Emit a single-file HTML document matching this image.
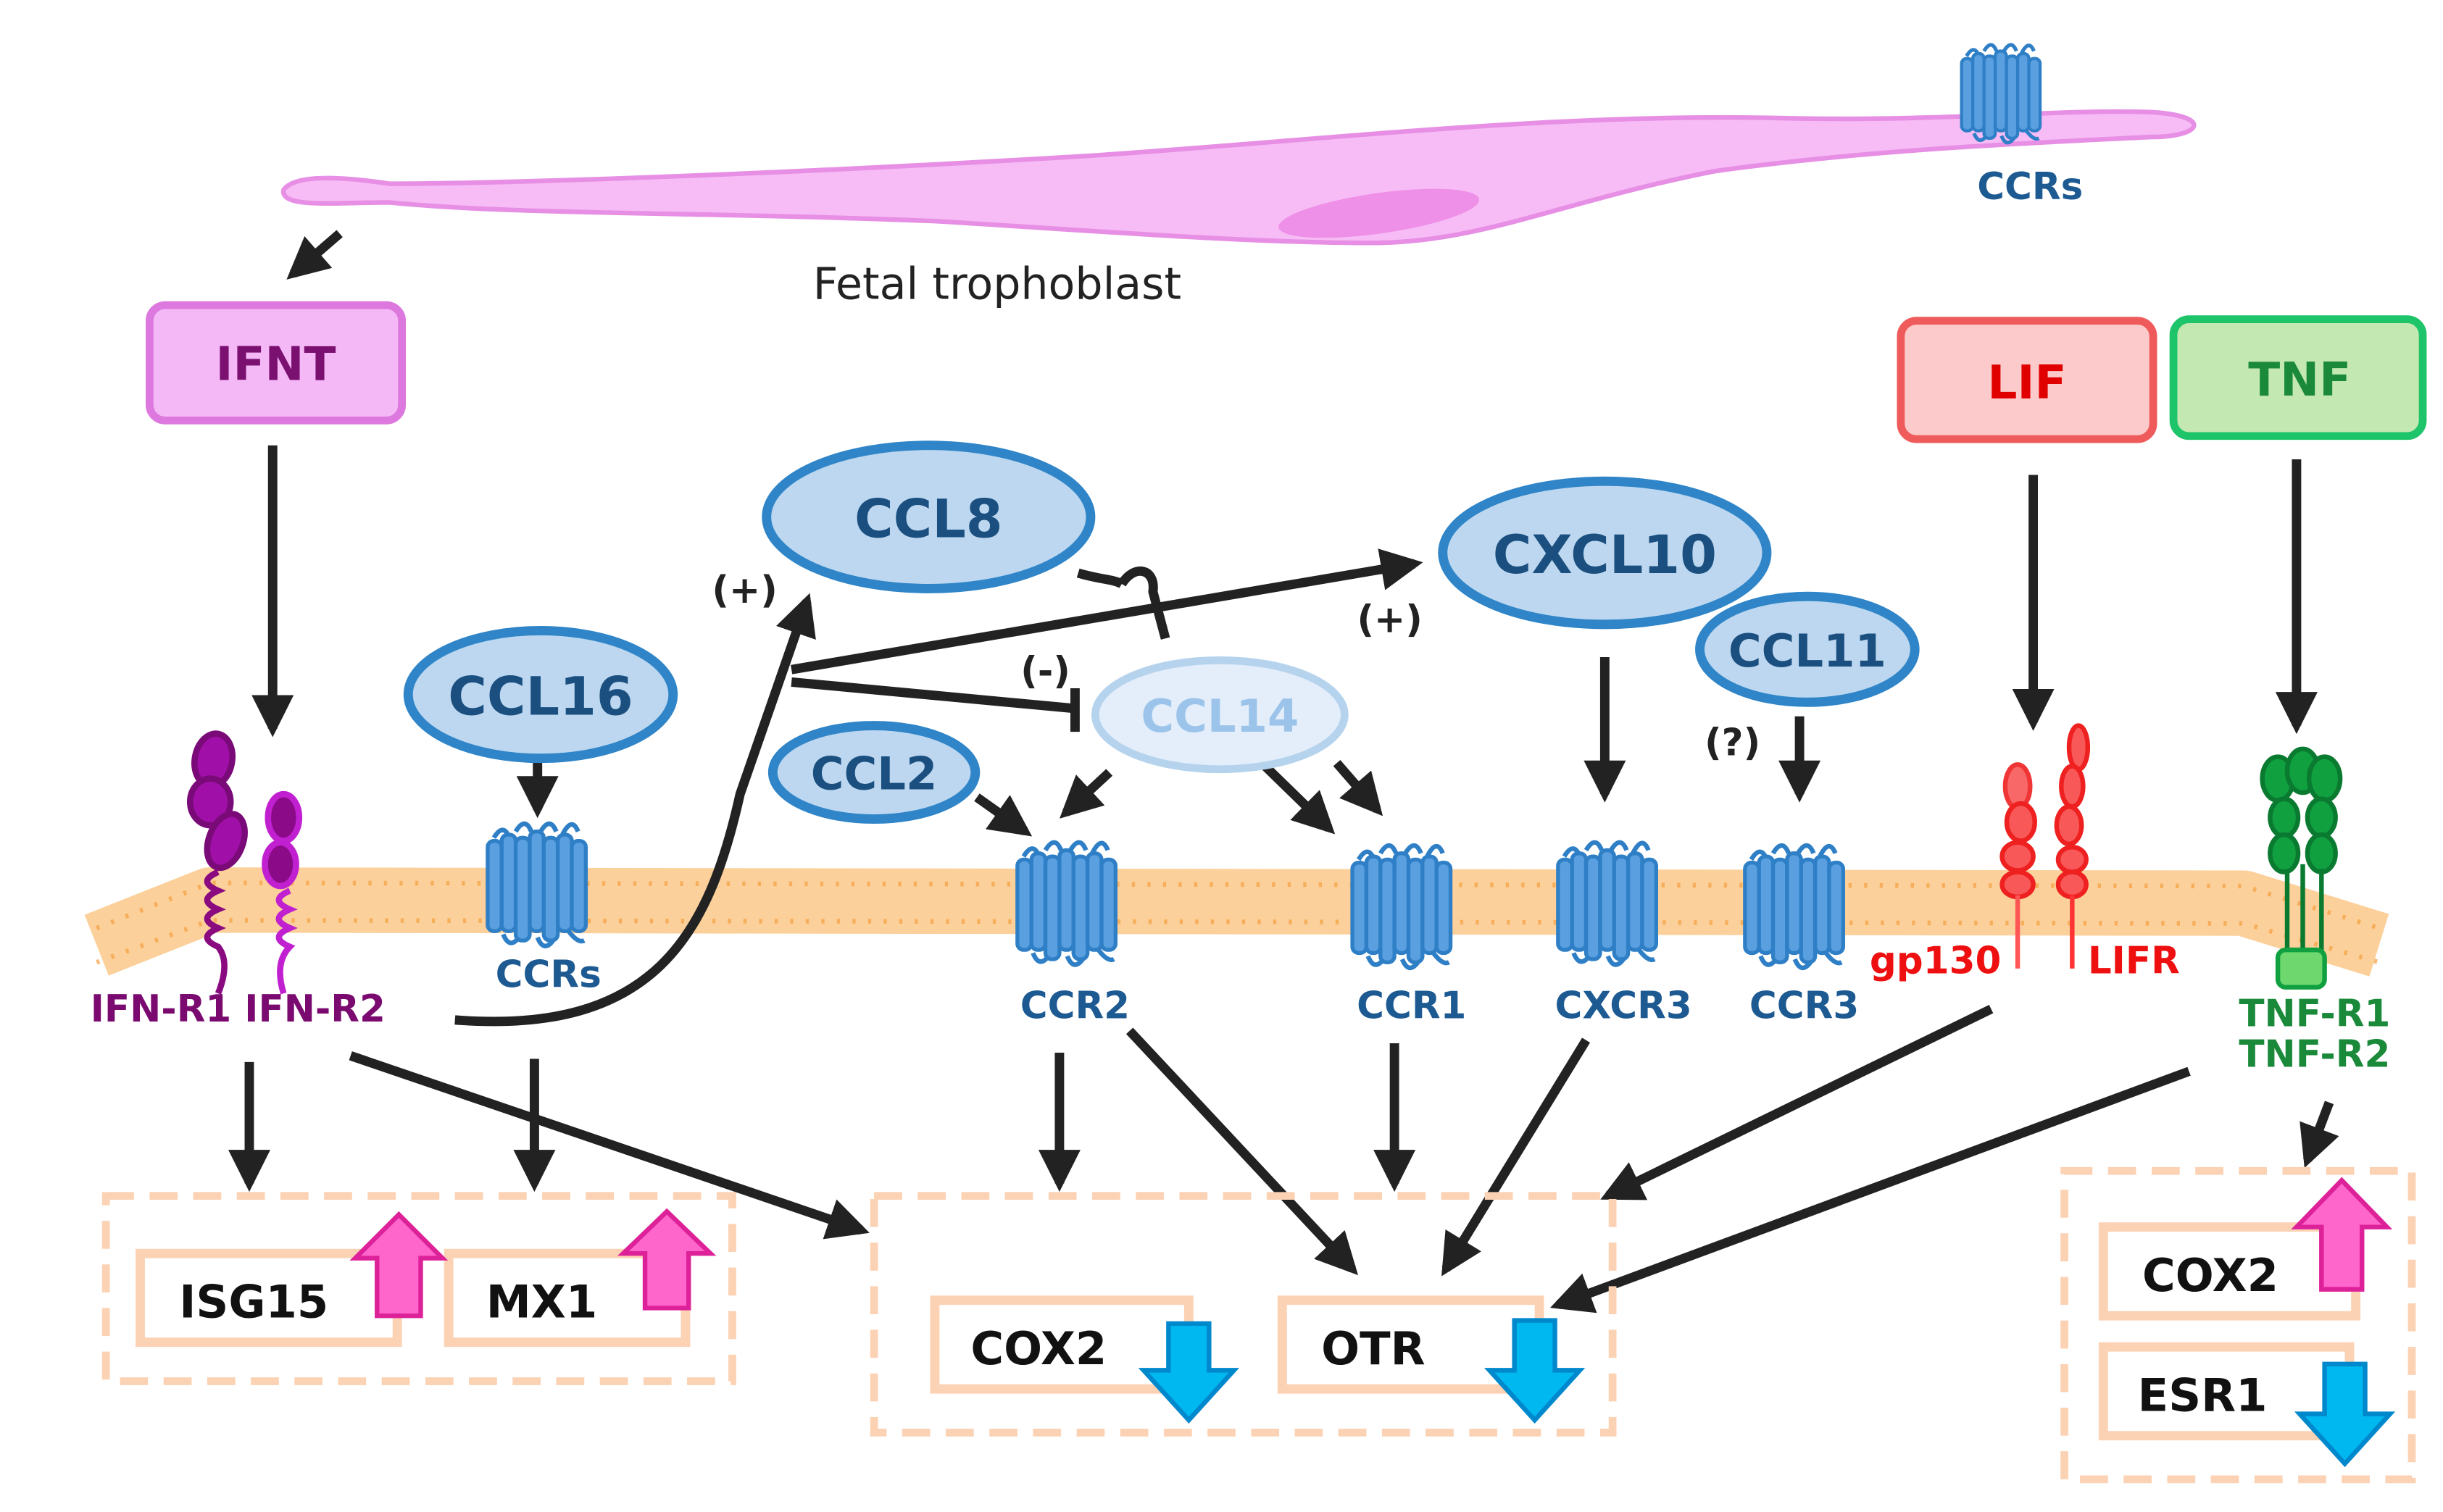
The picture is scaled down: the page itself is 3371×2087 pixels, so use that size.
<!DOCTYPE html>
<html><head><meta charset="utf-8"><style>
html,body{margin:0;padding:0;background:#fff;}
svg{display:block;}
text{font-family:"DejaVu Sans","Liberation Sans",sans-serif;font-weight:bold;}
</style></head><body>
<svg width="3371" height="2087" viewBox="0 0 1568 971" preserveAspectRatio="none" xmlns="http://www.w3.org/2000/svg">
<defs>
<marker id="ah" viewBox="0 0 10 10" refX="8" refY="5" markerWidth="4.5" markerHeight="4.5" orient="auto-start-reverse" markerUnits="strokeWidth">
<path d="M0,0 L10,5 L0,10 z" fill="#222"/></marker>
<g id="r7">
<path d="M-26,-30 q6,-10 10,0 M-12,-34 q6,-10 10,0 M4,-34 q6,-10 10,0 M18,-32 q6,-12 10,-2" fill="none" stroke="#2f7fc6" stroke-width="3"/>
<rect x="-30" y="-28" width="9" height="58" rx="4" fill="#5aa0e0" stroke="#2f7fc6" stroke-width="2.5"/>
<rect x="-21" y="-32" width="9" height="62" rx="4" fill="#5aa0e0" stroke="#2f7fc6" stroke-width="2.5"/>
<rect x="-12" y="-30" width="9" height="66" rx="4" fill="#5aa0e0" stroke="#2f7fc6" stroke-width="2.5"/>
<rect x="-3" y="-34" width="9" height="64" rx="4" fill="#5aa0e0" stroke="#2f7fc6" stroke-width="2.5"/>
<rect x="6" y="-30" width="9" height="66" rx="4" fill="#5aa0e0" stroke="#2f7fc6" stroke-width="2.5"/>
<rect x="15" y="-32" width="9" height="62" rx="4" fill="#5aa0e0" stroke="#2f7fc6" stroke-width="2.5"/>
<rect x="24" y="-28" width="9" height="58" rx="4" fill="#5aa0e0" stroke="#2f7fc6" stroke-width="2.5"/>
<path d="M-20,32 q4,10 10,2 M2,34 q4,10 10,2 M22,30 q6,8 10,6" fill="none" stroke="#2f7fc6" stroke-width="3"/>
</g>
</defs>

<!-- trophoblast -->
<path d="M182,122 C190,110 230,115 250,118 C320,118 500,112 700,100 C850,90 1000,72 1150,76 C1250,78 1320,70 1380,72 C1420,74 1415,88 1380,88 C1300,92 1200,96 1100,110 C1000,130 950,156 880,156 C800,156 700,148 600,142 C450,136 330,138 250,130 C215,130 180,134 182,122 Z" fill="#f7bcf5" stroke="#e78fe5" stroke-width="3"/>
<ellipse cx="885" cy="137" rx="65" ry="13" fill="#ee8fe8" transform="rotate(-8 885 137)"/>
<use href="#r7" transform="translate(1283,60) scale(0.8)"/>
<text x="1303" y="128" font-size="24" fill="#1d5a92" text-anchor="middle">CCRs</text>
<text x="640" y="192" font-size="28" fill="#222" text-anchor="middle" style="font-weight:normal">Fetal trophoblast</text>

<!-- membrane -->
<polyline points="62,607 135,578 1440,580 1527,607" fill="none" stroke="#fcd09a" stroke-width="42" stroke-linejoin="round"/>
<polyline points="62,596 135,567 1440,569 1527,596" fill="none" stroke="#f5a040" stroke-width="3" stroke-dasharray="2 8" opacity="0.7"/>
<polyline points="62,618 135,591 1440,593 1527,618" fill="none" stroke="#f5a040" stroke-width="3" stroke-dasharray="2 8" opacity="0.7"/>

<!-- top boxes -->
<rect x="96" y="196" width="162" height="74" rx="10" fill="#f5b8f7" stroke="#dd78df" stroke-width="5"/>
<text x="177" y="244" font-size="30" fill="#7a1070" text-anchor="middle">IFNT</text>
<rect x="1220" y="206" width="162" height="76" rx="10" fill="#fccaca" stroke="#ef5a5a" stroke-width="5"/>
<text x="1301" y="256" font-size="30" fill="#e00000" text-anchor="middle">LIF</text>
<rect x="1395" y="205" width="160" height="75" rx="10" fill="#c4e8b2" stroke="#1ec46a" stroke-width="5"/>
<text x="1476" y="254" font-size="30" fill="#1a8a3a" text-anchor="middle">TNF</text>

<g stroke="#222" stroke-width="6" fill="none" marker-end="url(#ah)">
<line x1="175" y1="286" x2="175" y2="468"/>
<line x1="1305" y1="305" x2="1305" y2="464"/>
<line x1="1474" y1="295" x2="1474" y2="466"/>
<line x1="218" y1="150" x2="188" y2="176"/>
<path d="M292,655 C420,665 455,600 475,510 L518,386"/>
<line x1="508" y1="430" x2="908" y2="362"/>
<line x1="345" y1="488" x2="345" y2="520"/>
<line x1="1030" y1="422" x2="1030" y2="510"/>
<line x1="1155" y1="460" x2="1155" y2="510"/>
<line x1="627" y1="512" x2="658" y2="534"/>
<line x1="712" y1="496" x2="684" y2="522"/>
<line x1="812" y1="492" x2="853" y2="532"/>
<line x1="858" y1="490" x2="884" y2="520"/>
<line x1="160" y1="682" x2="160" y2="760"/>
<line x1="343" y1="680" x2="343" y2="760"/>
<line x1="680" y1="676" x2="680" y2="760"/>
<line x1="895" y1="670" x2="895" y2="760"/>
<line x1="225" y1="678" x2="553" y2="790"/>
<line x1="725" y1="662" x2="868" y2="815"/>
<line x1="1018" y1="668" x2="928" y2="815"/>
<line x1="1278" y1="648" x2="1032" y2="768"/>
<line x1="1405" y1="688" x2="1000" y2="838"/>
<line x1="1495" y1="708" x2="1481" y2="745"/>
</g>
<!-- inhibition -->
<g stroke="#222" stroke-width="6" fill="none">
<line x1="508" y1="438" x2="690" y2="455"/>
<line x1="690" y1="442" x2="690" y2="470"/>
<path d="M692,368 C705,372 715,372 720,375 M720,375 C728,362 742,365 740,380 L748,410"/>
</g>

<!-- ellipses -->
<ellipse cx="596" cy="332" rx="104" ry="46" fill="#bcd7ef" stroke="#2f85c8" stroke-width="6"/>
<text x="596" y="345" font-size="34" fill="#1a4f80" text-anchor="middle">CCL8</text>
<ellipse cx="1030" cy="355" rx="104" ry="46" fill="#bcd7ef" stroke="#2f85c8" stroke-width="6"/>
<text x="1030" y="368" font-size="34" fill="#1a4f80" text-anchor="middle">CXCL10</text>
<ellipse cx="347" cy="446" rx="85" ry="41" fill="#bcd7ef" stroke="#2f85c8" stroke-width="6"/>
<text x="347" y="459" font-size="34" fill="#1a4f80" text-anchor="middle">CCL16</text>
<ellipse cx="1160" cy="417" rx="69" ry="34" fill="#bcd7ef" stroke="#2f85c8" stroke-width="6"/>
<text x="1160" y="428" font-size="29" fill="#1a4f80" text-anchor="middle">CCL11</text>
<ellipse cx="783" cy="459" rx="80" ry="35" fill="#e3eefa" stroke="#b6d3ee" stroke-width="5"/>
<text x="783" y="470" font-size="29" fill="#9cc4ea" text-anchor="middle">CCL14</text>
<ellipse cx="561" cy="496" rx="65" ry="30" fill="#bcd7ef" stroke="#2f85c8" stroke-width="6"/>
<text x="561" y="507" font-size="29" fill="#1a4f80" text-anchor="middle">CCL2</text>

<g font-size="24" fill="#222" text-anchor="middle">
<text x="478" y="387">(+)</text>
<text x="892" y="406">(+)</text>
<text x="671" y="439">(-)</text>
<text x="1112" y="485">(?)</text>
</g>

<!-- receptors -->
<use href="#r7" transform="translate(343,568)"/>
<use href="#r7" transform="translate(683,580)"/>
<use href="#r7" transform="translate(898,582)"/>
<use href="#r7" transform="translate(1030,580)"/>
<use href="#r7" transform="translate(1150,582)"/>
<g font-size="24" fill="#1d5a92" text-anchor="middle">
<text x="352" y="634">CCRs</text>
<text x="690" y="654">CCR2</text>
<text x="906" y="654">CCR1</text>
<text x="1042" y="654">CXCR3</text>
<text x="1158" y="654">CCR3</text>
</g>

<!-- IFN receptors -->
<g stroke="#7a0a78" stroke-width="4" fill="#a010a8">
<ellipse cx="137" cy="488" rx="12" ry="17" transform="rotate(10 137 488)"/>
<ellipse cx="135" cy="515" rx="13" ry="15"/>
<ellipse cx="145" cy="540" rx="11" ry="18" transform="rotate(20 145 540)"/>
<ellipse cx="182" cy="525" rx="10" ry="15" fill="#8a0a88" stroke="#c020d0"/>
<ellipse cx="180" cy="555" rx="10" ry="14" fill="#8a0a88" stroke="#c020d0"/>
</g>
<g fill="none" stroke-width="4">
<path d="M140,560 q-14,6 0,12 q-14,6 0,12 q-14,6 0,12 q-14,6 0,12 q8,10 0,30" stroke="#8a0a80"/>
<path d="M186,572 q-14,6 0,12 q-14,6 0,12 q-14,6 0,12 q-10,10 -4,30" stroke="#c020d0"/>
</g>
<text x="58" y="656" font-size="24" fill="#7a0a70">IFN-R1 IFN-R2</text>

<!-- LIF receptors -->
<g fill="#f85858" stroke="#ee2020" stroke-width="3">
<ellipse cx="1295" cy="505" rx="8" ry="14" opacity="0.9"/>
<ellipse cx="1297" cy="528" rx="9" ry="12"/>
<ellipse cx="1295" cy="550" rx="10" ry="9"/>
<ellipse cx="1295" cy="568" rx="10" ry="8"/>
<ellipse cx="1334" cy="480" rx="6" ry="14"/>
<ellipse cx="1330" cy="505" rx="7" ry="13"/>
<ellipse cx="1328" cy="530" rx="8" ry="12"/>
<ellipse cx="1330" cy="552" rx="9" ry="8"/>
<ellipse cx="1330" cy="568" rx="9" ry="8"/>
</g>
<line x1="1295" y1="575" x2="1295" y2="622" stroke="#f55" stroke-width="3"/>
<line x1="1330" y1="575" x2="1330" y2="622" stroke="#f33" stroke-width="3"/>
<text x="1200" y="625" font-size="24" fill="#ee1010">gp130</text>
<text x="1340" y="625" font-size="24" fill="#ee1010">LIFR</text>

<!-- TNF receptors -->
<g fill="#10a040" stroke="#0a7a30" stroke-width="3">
<ellipse cx="1462" cy="500" rx="10" ry="14"/><ellipse cx="1478" cy="495" rx="10" ry="14"/><ellipse cx="1492" cy="500" rx="10" ry="14"/>
<ellipse cx="1466" cy="525" rx="9" ry="12"/><ellipse cx="1490" cy="525" rx="9" ry="12"/>
<ellipse cx="1466" cy="548" rx="9" ry="12"/><ellipse cx="1490" cy="548" rx="9" ry="12"/>
</g>
<g stroke="#0a7a30" stroke-width="3">
<line x1="1468" y1="558" x2="1468" y2="630"/><line x1="1478" y1="555" x2="1478" y2="630"/><line x1="1490" y1="558" x2="1490" y2="630"/>
</g>
<rect x="1462" y="610" width="30" height="24" rx="5" fill="#6ed86e" stroke="#10a040" stroke-width="3"/>
<text x="1437" y="659" font-size="24" fill="#1a8a3a">TNF-R1</text>
<text x="1437" y="685" font-size="24" fill="#1a8a3a">TNF-R2</text>

<!-- dashed boxes -->
<g fill="none" stroke="#fcd2b4" stroke-width="5" stroke-dasharray="18 10">
<rect x="68" y="768" width="402" height="119"/>
<rect x="561" y="768" width="474" height="152"/>
<rect x="1325" y="752" width="223" height="198"/>
</g>
<g fill="#fff" stroke="#fcd2b4" stroke-width="6">
<rect x="90" y="805" width="165" height="57"/>
<rect x="288" y="805" width="152" height="57"/>
<rect x="600" y="835" width="163" height="57"/>
<rect x="823" y="835" width="165" height="57"/>
<rect x="1350" y="788" width="162" height="57"/>
<rect x="1350" y="865" width="158" height="57"/>
</g>
<g font-size="29" fill="#111">
<text x="115" y="846">ISG15</text>
<text x="312" y="846">MX1</text>
<text x="623" y="876">COX2</text>
<text x="848" y="876">OTR</text>
<text x="1375" y="829">COX2</text>
<text x="1372" y="906">ESR1</text>
</g>

<!-- up arrows -->
<g fill="#ff66cc" stroke="#dd2299" stroke-width="3">
<path d="M242,845 L242,808 L228,808 L256,780 L284,808 L270,808 L270,845 Z"/>
<path d="M414,840 L414,805 L400,805 L428,778 L456,805 L442,805 L442,840 Z"/>
<path d="M1490,828 L1490,788 L1474,788 L1503,758 L1532,788 L1516,788 L1516,828 Z"/>
</g>
<g fill="#00b8f0" stroke="#0088cc" stroke-width="3">
<path d="M750,850 L776,850 L776,880 L792,880 L763,912 L734,880 L750,880 Z"/>
<path d="M972,848 L998,848 L998,880 L1014,880 L985,912 L956,880 L972,880 Z"/>
<path d="M1492,876 L1518,876 L1518,908 L1534,908 L1505,940 L1476,908 L1492,908 Z"/>
</g>
</svg>
</body></html>
